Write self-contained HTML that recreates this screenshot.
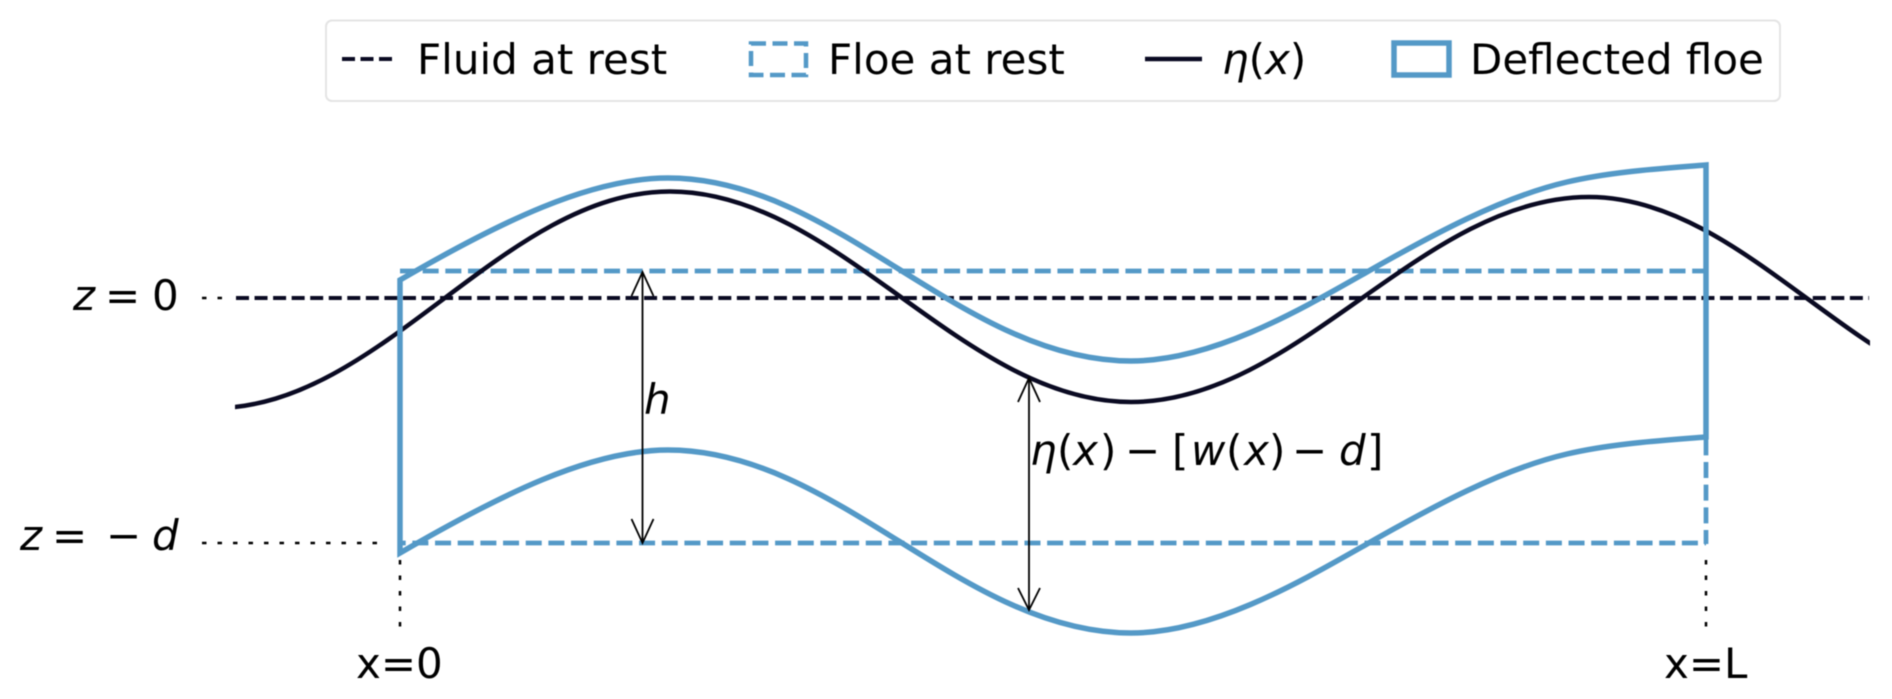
<!DOCTYPE html>
<html>
<head>
<meta charset="utf-8">
<style>
html,body{margin:0;padding:0;background:#fff;width:1892px;height:699px;overflow:hidden}
svg{display:block;filter:blur(0.5px)}
text{font-family:"DejaVu Sans","Liberation Sans",sans-serif;font-size:42px;fill:#000}
.i{font-style:italic}
</style>
</head>
<body>
<svg width="1892" height="699" viewBox="0 0 1892 699" xmlns="http://www.w3.org/2000/svg">
<defs>
<clipPath id="c"><rect x="235" y="0" width="1635" height="699"/></clipPath>
</defs>
<rect width="1892" height="699" fill="#fff"/>
<!-- legend -->
<rect x="326" y="20.5" width="1454" height="80.5" rx="6" ry="6" fill="#fff" stroke="#e4e4e4" stroke-width="2"/>
<line x1="342" y1="59" x2="392" y2="59" stroke="#0a0a22" stroke-width="4" stroke-dasharray="13 5.5"/>
<text x="417" y="74">Fluid at rest</text>
<rect x="751" y="43.5" width="55" height="31.5" fill="none" stroke="#5499c7" stroke-width="4.5" stroke-dasharray="15 6.5"/>
<text x="828" y="74">Floe at rest</text>
<line x1="1145" y1="59" x2="1202" y2="59" stroke="#0a0a22" stroke-width="4.5"/>
<text x="1222" y="74"><tspan class="i">η</tspan>(<tspan class="i">x</tspan>)</text>
<rect x="1394" y="43" width="55" height="32" fill="none" stroke="#5499c7" stroke-width="5.5"/>
<text x="1470" y="74">Deflected floe</text>

<!-- dotted guides -->
<g stroke="#000" stroke-width="2.5" fill="none" stroke-dasharray="4.5 11">
<line x1="202" y1="298" x2="232" y2="298"/>
<line x1="202" y1="543" x2="385" y2="543"/>
<line x1="400" y1="560" x2="400" y2="628"/>
<line x1="1706" y1="560" x2="1706" y2="628"/>
</g>
<!-- fluid at rest -->
<line x1="236" y1="298" x2="1869" y2="298" stroke="#0a0a22" stroke-width="4" stroke-dasharray="13 5.55"/>
<!-- floe at rest -->
<g fill="none" stroke="#5499c7" stroke-width="4.7" stroke-dasharray="16 6.67">
<line x1="400" y1="271" x2="1706" y2="271"/>
<line x1="400" y1="543" x2="1706" y2="543" stroke-dashoffset="10.3"/>
<line x1="1706" y1="544" x2="1706" y2="271" stroke-dashoffset="2"/>
</g>
<!-- eta -->
<path clip-path="url(#c)" d="M215 408C381 408 504 191.5 670 191.5C838 191.5 963 402 1131 402C1298 402 1422 197 1589 197C1749 197 1868 402 2028 402" fill="none" stroke="#0a0a22" stroke-width="4.5"/>
<!-- deflected floe -->
<path d="M400 280C500 222 590 178 668 178C837 178 962 361 1131 361C1213 361 1300 310 1367 272C1432 235 1502 197 1567 182C1612 171.5 1660 168.7 1706 165V437C1660 440.7 1612 443.5 1567 454C1502 469 1432 507 1367 544C1300 582 1213 633 1131 633C962 633 837 450 668 450C590 450 500 495 400 553Z" fill="none" stroke="#5499c7" stroke-width="5.5"/>

<!-- arrows -->
<g stroke="#000" stroke-width="1.8" fill="none">
<path d="M642.5 272V543"/>
<path d="M631.5 296L642.5 272L653.5 296"/>
<path d="M631.5 519L642.5 543L653.5 519"/>
<path d="M1029 378V610"/>
<path d="M1018 402L1029 378L1040 402"/>
<path d="M1018 588L1029 610L1040 588"/>
</g>

<!-- labels -->
<text y="310"><tspan x="73" class="i">z</tspan><tspan x="105">=</tspan><tspan x="152">0</tspan></text>
<text y="550"><tspan x="20" class="i">z</tspan><tspan x="52">=</tspan><tspan x="106">−</tspan><tspan x="152" class="i">d</tspan></text>
<text x="356" y="678">x=0</text>
<text x="1664" y="678">x=L</text>
<text x="644" y="414" class="i">h</text>
<text y="465"><tspan x="1030" class="i">η</tspan><tspan x="1057">(</tspan><tspan x="1073" class="i">x</tspan><tspan x="1100">)</tspan><tspan x="1125">−</tspan><tspan x="1172">[</tspan><tspan x="1191" class="i">w</tspan><tspan x="1226">(</tspan><tspan x="1244" class="i">x</tspan><tspan x="1269">)</tspan><tspan x="1292">−</tspan><tspan x="1339" class="i">d</tspan><tspan x="1367">]</tspan></text>
</svg>
</body>
</html>
